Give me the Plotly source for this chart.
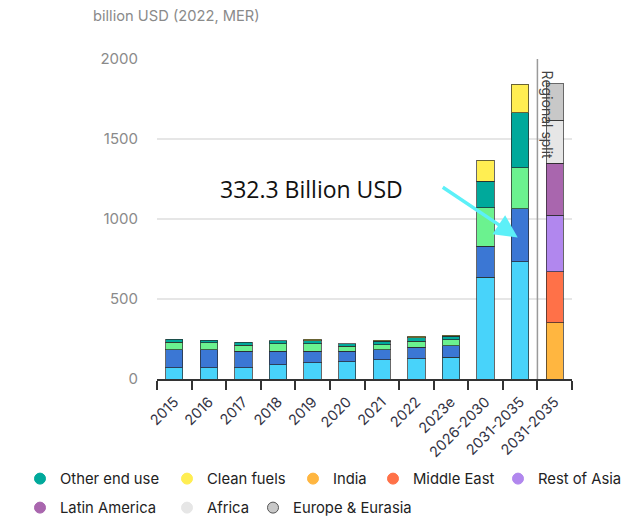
import plotly.graph_objects as go

categories = ["2015", "2016", "2017", "2018", "2019", "2020", "2021", "2022",
              "2023e", "2026-2030", "2031-2035", "2031-2035"]

# sector split (billion USD)
power = [70, 70, 70, 89, 101, 108, 120, 126, 136, 637, 733, None]
grids = [113, 113, 102, 83, 73, 65, 63, 73, 73, 194, 332.3, None]
efficiency = [46, 45, 39, 48, 46, 33, 31, 38, 36, 240, 255, None]
other_end_use = [19, 15, 19, 19, 19, 15, 21, 20, 22, 165, 344, None]
clean_fuels = [None, None, None, None, 8, None, 6, 9, 6, 130, 178, None]

# regional split of 2031-2035
india = [None] * 11 + [351]
middle_east = [None] * 11 + [319]
rest_of_asia = [None] * 11 + [352]
latin_america = [None] * 11 + [327]
africa = [None] * 11 + [267]
europe_eurasia = [None] * 11 + [230]

y_ticks = [0, 500, 1000, 1500, 2000]

xpos = list(range(len(categories)))

series = [
    ("Power", power, "#48D3FA"),
    ("Grids", grids, "#3B77D4"),
    ("Efficiency", efficiency, "#6BF28F"),
    ("Other end use", other_end_use, "#00A99B"),
    ("Clean fuels", clean_fuels, "#FFEE52"),
    ("India", india, "#FFB640"),
    ("Middle East", middle_east, "#FF7148"),
    ("Rest of Asia", rest_of_asia, "#B187EE"),
    ("Latin America", latin_america, "#A966AE"),
    ("Africa", africa, "#E6E6E6"),
    ("Europe & Eurasia", europe_eurasia, "#C8C8C8"),
]

# legend entry placement (screen pixels: text start x, row centre y)
legend_pos = {
    "Other end use": (60, 479), "Clean fuels": (207, 479), "India": (333, 479),
    "Middle East": (413, 479), "Rest of Asia": (538, 479),
    "Latin America": (60, 508), "Africa": (207, 508), "Europe & Eurasia": (293, 508),
}

W, H = 629, 516
OFF = 8  # page body margin of the html page
ML, MT = 157 - OFF, 59 - OFF
PW, PH = 415, 320
MR, MB = W - ML - PW, H - MT - PH

fig = go.Figure()
for name, vals, color in series:
    fig.add_trace(go.Bar(
        x=xpos, y=vals, name=name, width=0.5,
        marker=dict(color=color, line=dict(color="rgba(40,40,40,0.7)", width=1)),
        showlegend=False,
    ))

legend_layouts = {}
k = 0
for name, vals, color in series:
    if name not in legend_pos:
        continue
    k += 1
    lname = "legend" if k == 1 else f"legend{k}"
    lc = "#555555" if name == "Europe & Eurasia" else color
    fig.add_trace(go.Scatter(
        x=[None], y=[None], mode="markers", name=name, legend=lname,
        marker=dict(symbol="circle", size=11, color=color, line=dict(color=lc, width=1)),
        showlegend=True,
    ))
    tx, ty = legend_pos[name]
    legend_layouts[lname] = dict(
        xref="container", yref="container", x=(tx - 40 - OFF) / W, y=1 - (ty - OFF) / H,
        xanchor="left", yanchor="middle", orientation="h",
        font=dict(size=14.8, color="#222222"), bgcolor="rgba(0,0,0,0)",
        entrywidth=100 if name == "Rest of Asia" else None,
    )

fig.add_shape(type="line", xref="x", yref="paper", x0=10.5, x1=10.5, y0=0, y1=1,
              line=dict(color="#9a9a9a", width=1.5))

fig.add_annotation(x=10.5, y=1, xref="x", yref="paper", text="Regional split",
                   textangle=90, showarrow=False, xanchor="left", yanchor="top",
                   xshift=0, yshift=-10,
                   font=dict(family="Inter, Lato, sans-serif", size=14, color="#444444"))

fig.add_annotation(xref="paper", yref="paper", x=(91 - 157) / PW, y=1 + (59 - 16) / PH,
                   text="billion USD (2022, MER)",
                   showarrow=False, xanchor="left", yanchor="middle",
                   font=dict(family="Inter, Lato, sans-serif", size=14.7, color="#8a8a8a"))

# arrow
fig.add_annotation(x=9.93, y=885, ax=7.72, ay=1205, xref="x", yref="y", axref="x", ayref="y",
                   text="", showarrow=True, arrowhead=2, arrowsize=1.3, arrowwidth=3.5,
                   arrowcolor="#5CF0F8", standoff=0)
fig.add_annotation(x=3.98, y=1185, xref="x", yref="y", text="332.3 Billion USD",
                   showarrow=False, xanchor="center", yanchor="middle",
                   font=dict(family="Open Sans, Noto Sans, sans-serif", size=23, color="#111111"))

fig.update_layout(
    width=W, height=H,
    barmode="stack",
    plot_bgcolor="white", paper_bgcolor="white",
    margin=dict(l=ML, r=MR, t=MT, b=MB, autoexpand=False),
    font=dict(family="Inter, Lato, sans-serif"),
    **legend_layouts,
)
fig.update_xaxes(
    automargin=False,
    range=[-0.5, 11.5], tickmode="array", tickvals=xpos, ticktext=categories,
    tickangle=-45, ticks="", showgrid=False, zeroline=False,
    showline=True, linecolor="#333333", linewidth=1.5,
    tickfont=dict(size=14.5, color="#333344"), ticklabelstandoff=7,
    minor=dict(tickmode="array", tickvals=[i - 0.5 for i in range(13)], ticks="outside",
               ticklen=9, tickcolor="#333333", tickwidth=1.5, showgrid=False),
)
fig.update_yaxes(
    automargin=False,
    range=[0, 2000], tickmode="array", tickvals=y_ticks, showgrid=True, gridcolor="#e6e6e6",
    gridwidth=1.5, zeroline=False, showline=False, ticks="outside", ticklen=15,
    tickcolor="rgba(0,0,0,0)", tickfont=dict(size=15, color="#8a8a8a"),
)

fig.write_html("out.html")
